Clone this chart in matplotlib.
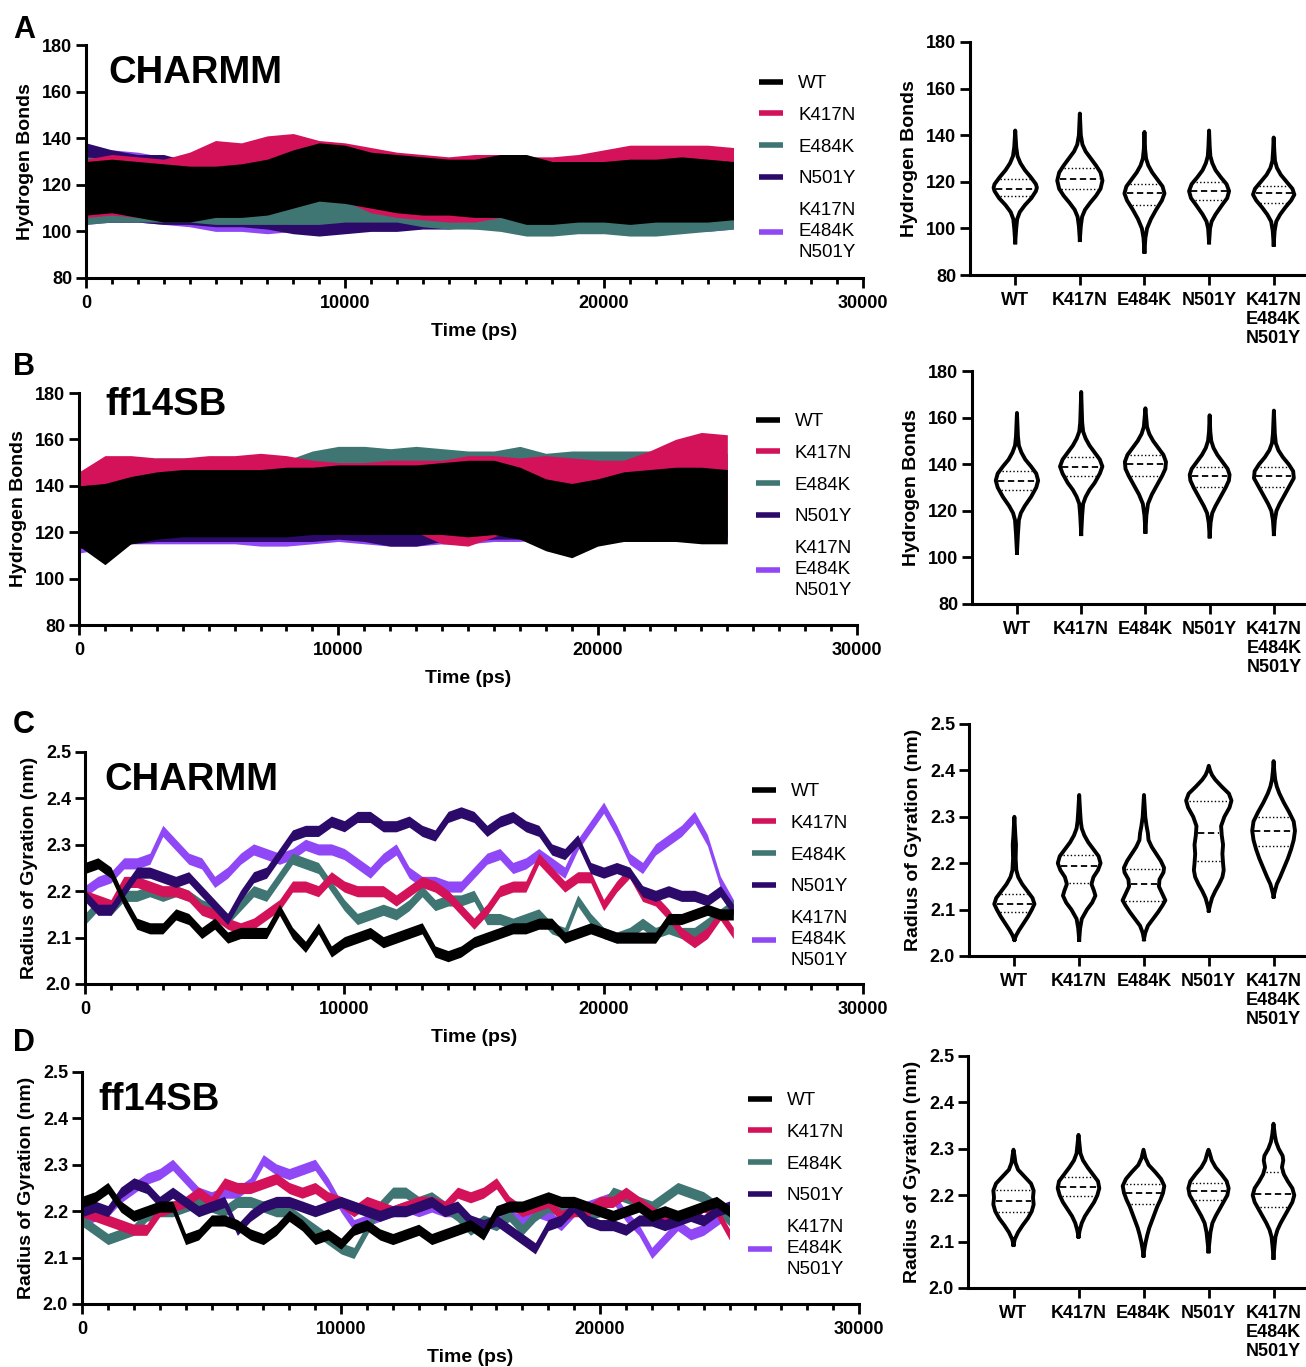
import numpy as np
import matplotlib
matplotlib.use('Agg')
import matplotlib.pyplot as plt
from matplotlib.lines import Line2D
from matplotlib.ticker import MultipleLocator, FormatStrFormatter

plt.rcParams['font.family'] = ['Liberation Sans', 'DejaVu Sans']
plt.rcParams.update({
    'font.weight': 'bold',
    'axes.labelweight': 'bold',
    'axes.linewidth': 2.2,
    'xtick.major.width': 2.0, 'xtick.minor.width': 2.0, 'ytick.major.width': 2.0,
    'xtick.major.size': 7, 'xtick.minor.size': 4.5, 'ytick.major.size': 7,
    'xtick.labelsize': 13, 'ytick.labelsize': 13,
    'axes.labelsize': 14,
})

W, H = 1306, 1367

labels = ['WT', 'K417N', 'E484K', 'N501Y', 'K417N\nE484K\nN501Y']
colors = ['#000000', '#d3125a', '#3f7572', '#2c0a6a', '#9048f6']

# ---- hydrogen bonds, low / high envelope every 1000 ps (0..25000) ----
t_hb = np.arange(0, 25001, 1000)

hbA_lo = [
    [107, 108, 106, 104, 104, 106, 106, 107, 110, 113, 112, 110, 108, 107, 107, 106, 106, 103, 103, 104, 104, 103, 104, 104, 104, 105],
    [106, 107, 106, 106, 108, 110, 110, 111, 113, 114, 113, 108, 106, 105, 104, 104, 106, 107, 108, 109, 110, 110, 111, 111, 111, 111],
    [103, 104, 104, 104, 104, 103, 103, 103, 103, 103, 104, 104, 104, 102, 101, 101, 100, 98, 98, 99, 99, 98, 98, 99, 100, 101],
    [104, 104, 104, 103, 103, 102, 102, 101, 99, 98, 99, 100, 100, 101, 101, 102, 102, 102, 103, 102, 102, 102, 102, 102, 102, 102],
    [103, 104, 104, 103, 102, 100, 100, 99, 100, 101, 102, 102, 102, 102, 102, 101, 102, 103, 103, 102, 102, 102, 101, 101, 100, 101],
]
hbA_hi = [
    [130, 131, 130, 129, 128, 128, 129, 131, 135, 138, 137, 134, 133, 132, 131, 131, 133, 133, 130, 130, 130, 131, 131, 132, 131, 130],
    [131, 133, 132, 131, 134, 139, 138, 141, 142, 139, 138, 136, 134, 133, 132, 133, 133, 132, 132, 133, 135, 137, 137, 137, 137, 136],
    [132, 131, 130, 130, 129, 128, 128, 127, 126, 125, 127, 127, 127, 127, 127, 127, 127, 127, 128, 127, 127, 127, 126, 126, 126, 126],
    [138, 135, 133, 133, 130, 129, 128, 128, 126, 126, 126, 127, 127, 127, 128, 129, 130, 129, 129, 129, 129, 129, 129, 130, 130, 129],
    [134, 135, 134, 132, 130, 129, 128, 128, 128, 128, 128, 128, 128, 129, 129, 130, 133, 131, 130, 130, 130, 131, 131, 131, 132, 131],
]

hbB_lo = [
    [114, 106, 115, 117, 118, 118, 118, 118, 118, 119, 119, 119, 119, 119, 119, 118, 119, 117, 112, 109, 114, 116, 116, 116, 115, 115],
    [117, 118, 120, 121, 121, 121, 121, 121, 121, 121, 121, 121, 121, 120, 115, 114, 118, 122, 124, 125, 125, 126, 127, 130, 132, 132],
    [118, 117, 118, 120, 119, 119, 119, 119, 119, 120, 121, 120, 120, 120, 120, 120, 121, 121, 121, 121, 122, 122, 121, 121, 121, 121],
    [113, 114, 115, 116, 116, 116, 116, 116, 116, 116, 117, 116, 114, 114, 116, 116, 117, 117, 117, 117, 118, 118, 118, 118, 118, 118],
    [111, 113, 115, 115, 115, 115, 115, 114, 114, 115, 116, 115, 114, 114, 115, 115, 116, 116, 117, 117, 117, 117, 116, 117, 117, 116],
]
hbB_hi = [
    [140, 141, 144, 146, 147, 147, 147, 147, 148, 148, 149, 149, 149, 149, 150, 151, 151, 148, 143, 141, 143, 146, 147, 148, 148, 147],
    [146, 153, 153, 152, 152, 153, 153, 154, 153, 151, 150, 150, 151, 151, 151, 153, 153, 152, 153, 152, 151, 151, 155, 160, 163, 162],
    [144, 147, 149, 152, 152, 152, 150, 150, 151, 155, 157, 157, 156, 157, 156, 155, 155, 157, 154, 155, 155, 155, 155, 154, 154, 154],
    [142, 144, 146, 147, 149, 147, 147, 147, 147, 148, 148, 148, 148, 148, 148, 149, 149, 148, 148, 148, 149, 149, 149, 149, 149, 149],
    [142, 144, 146, 148, 149, 149, 148, 148, 148, 149, 149, 149, 149, 149, 150, 153, 150, 150, 150, 152, 151, 151, 152, 152, 152, 152],
]

# ---- radius of gyration, trace centre every 500 ps (0..25000) ----
t_rg = np.arange(0, 25001, 500)
rg_half = 0.012  # half thickness of the noisy trace

rgC = [
    [2.25, 2.26, 2.24, 2.18, 2.13, 2.12, 2.12, 2.15, 2.14, 2.11, 2.13, 2.10, 2.11, 2.11, 2.11, 2.16, 2.11, 2.08, 2.12, 2.07, 2.09,
     2.10, 2.11, 2.09, 2.10, 2.11, 2.12, 2.07, 2.06, 2.07, 2.09, 2.10, 2.11, 2.12, 2.12, 2.13, 2.13, 2.10, 2.11, 2.12, 2.11,
     2.10, 2.10, 2.10, 2.10, 2.14, 2.14, 2.15, 2.16, 2.15, 2.15],
    [2.19, 2.18, 2.17, 2.22, 2.22, 2.21, 2.20, 2.20, 2.19, 2.16, 2.15, 2.13, 2.12, 2.13, 2.15, 2.17, 2.21, 2.21, 2.20, 2.23, 2.21,
     2.20, 2.20, 2.20, 2.18, 2.20, 2.22, 2.21, 2.19, 2.16, 2.13, 2.16, 2.20, 2.21, 2.21, 2.27, 2.24, 2.21, 2.23, 2.23, 2.17,
     2.21, 2.24, 2.19, 2.18, 2.15, 2.11, 2.09, 2.11, 2.15, 2.11],
    [2.14, 2.17, 2.16, 2.19, 2.19, 2.20, 2.19, 2.20, 2.19, 2.17, 2.16, 2.14, 2.17, 2.20, 2.19, 2.23, 2.27, 2.26, 2.25, 2.21, 2.17,
     2.14, 2.15, 2.16, 2.15, 2.17, 2.20, 2.17, 2.18, 2.18, 2.19, 2.14, 2.14, 2.13, 2.14, 2.15, 2.12, 2.11, 2.18, 2.14, 2.11,
     2.10, 2.11, 2.13, 2.11, 2.12, 2.11, 2.11, 2.13, 2.15, 2.17],
    [2.19, 2.16, 2.16, 2.20, 2.24, 2.24, 2.23, 2.22, 2.23, 2.20, 2.17, 2.14, 2.19, 2.23, 2.24, 2.28, 2.32, 2.33, 2.33, 2.35, 2.34,
     2.36, 2.36, 2.34, 2.34, 2.35, 2.33, 2.32, 2.36, 2.37, 2.36, 2.33, 2.35, 2.36, 2.34, 2.33, 2.29, 2.28, 2.31, 2.25, 2.24,
     2.25, 2.24, 2.20, 2.19, 2.20, 2.19, 2.19, 2.18, 2.20, 2.16],
    [2.20, 2.22, 2.23, 2.26, 2.26, 2.27, 2.33, 2.30, 2.27, 2.26, 2.22, 2.24, 2.27, 2.29, 2.28, 2.27, 2.28, 2.30, 2.29, 2.29, 2.28,
     2.26, 2.24, 2.27, 2.29, 2.24, 2.22, 2.22, 2.21, 2.21, 2.24, 2.27, 2.28, 2.25, 2.26, 2.28, 2.26, 2.24, 2.30, 2.34, 2.38,
     2.33, 2.27, 2.25, 2.29, 2.31, 2.33, 2.36, 2.31, 2.22, 2.17],
]

rgD = [
    [2.22, 2.23, 2.25, 2.21, 2.19, 2.20, 2.21, 2.21, 2.14, 2.15, 2.18, 2.18, 2.17, 2.15, 2.14, 2.16, 2.19, 2.17, 2.14, 2.15, 2.13,
     2.16, 2.17, 2.15, 2.14, 2.15, 2.16, 2.14, 2.15, 2.16, 2.17, 2.15, 2.20, 2.21, 2.21, 2.22, 2.23, 2.22, 2.22, 2.21, 2.20,
     2.19, 2.20, 2.21, 2.19, 2.20, 2.19, 2.20, 2.21, 2.22, 2.20],
    [2.20, 2.19, 2.18, 2.17, 2.16, 2.16, 2.20, 2.21, 2.22, 2.24, 2.22, 2.26, 2.25, 2.25, 2.26, 2.27, 2.25, 2.24, 2.25, 2.23, 2.22,
     2.20, 2.22, 2.21, 2.20, 2.21, 2.22, 2.22, 2.21, 2.24, 2.23, 2.24, 2.26, 2.22, 2.20, 2.21, 2.22, 2.19, 2.20, 2.20, 2.22,
     2.22, 2.24, 2.22, 2.20, 2.18, 2.19, 2.19, 2.21, 2.20, 2.15],
    [2.18, 2.16, 2.14, 2.15, 2.16, 2.19, 2.20, 2.20, 2.21, 2.22, 2.21, 2.20, 2.22, 2.22, 2.21, 2.20, 2.20, 2.18, 2.16, 2.14, 2.12,
     2.11, 2.16, 2.21, 2.24, 2.24, 2.22, 2.23, 2.21, 2.19, 2.16, 2.18, 2.17, 2.19, 2.16, 2.19, 2.21, 2.20, 2.21, 2.19, 2.20,
     2.24, 2.23, 2.22, 2.21, 2.23, 2.25, 2.24, 2.23, 2.21, 2.18],
    [2.20, 2.21, 2.20, 2.24, 2.26, 2.25, 2.22, 2.24, 2.22, 2.20, 2.21, 2.22, 2.16, 2.19, 2.21, 2.22, 2.22, 2.21, 2.20, 2.21, 2.22,
     2.21, 2.20, 2.19, 2.20, 2.20, 2.21, 2.22, 2.20, 2.21, 2.18, 2.17, 2.18, 2.16, 2.14, 2.12, 2.17, 2.18, 2.21, 2.18, 2.17,
     2.17, 2.16, 2.18, 2.18, 2.17, 2.18, 2.19, 2.18, 2.20, 2.21],
    [2.18, 2.19, 2.20, 2.23, 2.25, 2.27, 2.28, 2.30, 2.27, 2.24, 2.23, 2.24, 2.24, 2.26, 2.31, 2.29, 2.28, 2.29, 2.30, 2.26, 2.21,
     2.17, 2.18, 2.19, 2.20, 2.21, 2.20, 2.21, 2.20, 2.20, 2.18, 2.15, 2.20, 2.19, 2.18, 2.20, 2.19, 2.17, 2.20, 2.21, 2.22,
     2.23, 2.19, 2.16, 2.11, 2.14, 2.17, 2.15, 2.16, 2.18, 2.20],
]

# ---- violin outlines: value levels and half widths (category units) ----
vioA_y = [
    [94, 100, 104, 107, 110, 113, 116, 117.5, 119, 122, 125, 128, 131, 135, 142],
    [95, 101, 105, 108, 111, 114, 117, 120.5, 124, 127, 130, 133, 136, 140, 149.3],
    [90, 96, 100, 104, 108, 112, 115, 118, 121, 124, 127, 130, 134, 141.4],
    [94, 100, 103, 106, 110, 113, 116, 119, 122, 125, 128, 131, 135, 142],
    [93, 99, 103, 106, 109, 112, 114.5, 117, 120, 123, 126, 129, 133, 139],
]
vioA_w = [
    [0, 0.015, 0.03, 0.07, 0.15, 0.25, 0.32, 0.335, 0.32, 0.24, 0.15, 0.08, 0.035, 0.015, 0],
    [0, 0.015, 0.035, 0.08, 0.16, 0.25, 0.32, 0.35, 0.32, 0.25, 0.17, 0.09, 0.04, 0.015, 0],
    [0, 0.015, 0.04, 0.10, 0.18, 0.27, 0.31, 0.28, 0.20, 0.12, 0.06, 0.025, 0.01, 0],
    [0, 0.015, 0.04, 0.10, 0.20, 0.28, 0.31, 0.27, 0.18, 0.10, 0.05, 0.02, 0.01, 0],
    [0, 0.015, 0.04, 0.10, 0.18, 0.27, 0.32, 0.29, 0.20, 0.11, 0.05, 0.02, 0.01, 0],
]
vioA_q = [(114, 117, 121), (117, 121, 126), (110, 115, 119), (112, 116, 120), (111, 115, 118)]

vioB_y = [
    [102, 110, 116, 119, 122, 126, 130, 133, 136, 139, 142, 145, 148, 152, 162],
    [110, 118, 123, 126, 129, 132, 136, 139, 142, 145, 148, 151, 154, 158, 171],
    [111, 118, 123, 127, 131, 135, 138, 141, 144, 147, 150, 153, 156, 164],
    [109, 115, 119, 122, 126, 130, 133, 135.5, 138, 141, 144, 147, 150, 154, 161],
    [110, 116, 120, 123, 127, 131, 134, 137, 140, 143, 146, 149, 153, 163],
]
vioB_w = [
    [0, 0.015, 0.03, 0.06, 0.12, 0.22, 0.30, 0.33, 0.30, 0.22, 0.13, 0.07, 0.03, 0.015, 0],
    [0, 0.015, 0.03, 0.07, 0.13, 0.21, 0.29, 0.33, 0.29, 0.21, 0.13, 0.07, 0.03, 0.015, 0],
    [0, 0.015, 0.04, 0.10, 0.18, 0.26, 0.31, 0.32, 0.28, 0.20, 0.12, 0.06, 0.025, 0],
    [0, 0.015, 0.04, 0.09, 0.17, 0.25, 0.30, 0.31, 0.28, 0.20, 0.12, 0.06, 0.025, 0.01, 0],
    [0, 0.015, 0.04, 0.09, 0.17, 0.25, 0.31, 0.30, 0.23, 0.14, 0.07, 0.03, 0.015, 0],
]
vioB_q = [(129, 133, 137), (135, 139, 143), (135, 140, 144), (130, 135, 139), (130, 135, 139)]

vioC_y = [
    [2.035, 2.045, 2.055, 2.07, 2.085, 2.10, 2.112, 2.125, 2.14, 2.155, 2.17, 2.185, 2.21, 2.24, 2.26, 2.30],
    [2.035, 2.06, 2.08, 2.10, 2.115, 2.13, 2.14, 2.155, 2.17, 2.185, 2.20, 2.215, 2.23, 2.245, 2.26, 2.275, 2.29, 2.31, 2.347],
    [2.036, 2.05, 2.065, 2.08, 2.095, 2.11, 2.12, 2.135, 2.15, 2.165, 2.18, 2.19, 2.205, 2.22, 2.235, 2.25, 2.265, 2.28, 2.30, 2.347],
    [2.098, 2.11, 2.125, 2.14, 2.155, 2.17, 2.185, 2.20, 2.22, 2.24, 2.26, 2.28, 2.30, 2.32, 2.335, 2.35, 2.365, 2.38, 2.39, 2.40, 2.41],
    [2.128, 2.14, 2.155, 2.17, 2.19, 2.21, 2.23, 2.25, 2.27, 2.29, 2.31, 2.33, 2.35, 2.365, 2.38, 2.40, 2.42],
]
vioC_w = [
    [0, 0.03, 0.07, 0.14, 0.21, 0.27, 0.31, 0.28, 0.20, 0.12, 0.06, 0.03, 0.02, 0.025, 0.015, 0],
    [0, 0.015, 0.04, 0.12, 0.20, 0.25, 0.23, 0.19, 0.22, 0.29, 0.33, 0.30, 0.22, 0.14, 0.08, 0.04, 0.025, 0.015, 0],
    [0, 0.02, 0.06, 0.14, 0.22, 0.29, 0.33, 0.28, 0.23, 0.24, 0.30, 0.31, 0.26, 0.19, 0.12, 0.07, 0.06, 0.04, 0.02, 0],
    [0, 0.02, 0.05, 0.10, 0.16, 0.21, 0.23, 0.22, 0.21, 0.22, 0.20, 0.19, 0.24, 0.32, 0.35, 0.31, 0.20, 0.10, 0.05, 0.02, 0],
    [0, 0.02, 0.05, 0.10, 0.16, 0.22, 0.27, 0.31, 0.33, 0.31, 0.24, 0.16, 0.09, 0.05, 0.025, 0.01, 0],
]
vioC_q = [(2.095, 2.113, 2.133), (2.157, 2.193, 2.218), (2.118, 2.155, 2.187), (2.204, 2.265, 2.333), (2.236, 2.27, 2.30)]

vioD_y = [
    [2.093, 2.105, 2.12, 2.135, 2.15, 2.165, 2.18, 2.195, 2.21, 2.225, 2.24, 2.255, 2.27, 2.285, 2.298],
    [2.111, 2.125, 2.14, 2.155, 2.17, 2.185, 2.20, 2.215, 2.23, 2.245, 2.26, 2.275, 2.29, 2.31, 2.33],
    [2.07, 2.085, 2.10, 2.115, 2.13, 2.145, 2.16, 2.175, 2.19, 2.205, 2.22, 2.235, 2.25, 2.265, 2.28, 2.298],
    [2.079, 2.10, 2.12, 2.14, 2.155, 2.17, 2.185, 2.20, 2.215, 2.23, 2.245, 2.26, 2.275, 2.29, 2.298],
    [2.065, 2.09, 2.11, 2.125, 2.14, 2.155, 2.17, 2.185, 2.20, 2.215, 2.23, 2.245, 2.26, 2.275, 2.285, 2.30, 2.315, 2.33, 2.354],
]
vioD_w = [
    [0, 0.02, 0.07, 0.14, 0.22, 0.28, 0.31, 0.30, 0.31, 0.27, 0.17, 0.07, 0.03, 0.015, 0],
    [0, 0.02, 0.05, 0.10, 0.17, 0.24, 0.29, 0.32, 0.30, 0.22, 0.14, 0.07, 0.03, 0.015, 0],
    [0, 0.015, 0.035, 0.06, 0.09, 0.13, 0.17, 0.21, 0.26, 0.30, 0.32, 0.27, 0.18, 0.08, 0.03, 0],
    [0, 0.015, 0.03, 0.06, 0.11, 0.17, 0.23, 0.29, 0.31, 0.28, 0.20, 0.11, 0.05, 0.02, 0],
    [0, 0.015, 0.03, 0.06, 0.11, 0.17, 0.23, 0.29, 0.32, 0.29, 0.22, 0.16, 0.13, 0.15, 0.14, 0.08, 0.04, 0.02, 0],
]
vioD_q = [(2.163, 2.187, 2.211), (2.198, 2.218, 2.239), (2.18, 2.205, 2.225), (2.19, 2.21, 2.226), (2.175, 2.203, 2.25)]


fig = plt.figure(figsize=(W / 100, H / 100), dpi=100)


def px_axes(l, t, r, b):
    return fig.add_axes([l / W, 1 - b / H, (r - l) / W, (b - t) / H])


def clean(ax):
    ax.spines['top'].set_visible(False)
    ax.spines['right'].set_visible(False)
    ax.tick_params(axis='both', pad=3)


def ts_axes(ax, ylim, ystep, ylabel, fmt):
    clean(ax)
    ax.set_xlim(0, 30000)
    ax.set_ylim(*ylim)
    ax.set_xticks([0, 10000, 20000, 30000])
    ax.xaxis.set_minor_locator(MultipleLocator(1000))
    ax.yaxis.set_major_locator(MultipleLocator(ystep))
    ax.yaxis.set_major_formatter(FormatStrFormatter(fmt))
    ax.tick_params(axis='x', pad=5)
    ax.set_xlabel('Time (ps)', labelpad=8)
    ax.set_ylabel(ylabel, labelpad=6)
    handles = [Line2D([0], [0], color=c, lw=4, solid_capstyle='butt') for c in colors]
    return handles


def add_legend(ax, handles, x, top):
    leg = ax.legend(handles, labels, loc='upper left', bbox_to_anchor=(x / W, 1 - top / H),
                    bbox_transform=fig.transFigure, frameon=False, borderpad=0, borderaxespad=0,
                    handlelength=1.28, handletextpad=0.8, labelspacing=0.78,
                    prop={'size': 13.5, 'weight': 'normal'})
    for t in leg.get_texts():
        t.set_linespacing(1.32)


def hb_panel(ax, lo, hi):
    for i in [4, 3, 2, 1, 0]:
        ax.fill_between(t_hb, lo[i], hi[i], color=colors[i], lw=0)


def rg_panel(ax, centres):
    for i in [4, 2, 1, 3, 0]:
        c = np.array(centres[i])
        ax.fill_between(t_rg, c - rg_half, c + rg_half, color=colors[i], lw=0)


def violin_panel(ax, ys, ws, qs, ylim, ystep, ylabel, fmt):
    clean(ax)
    for i, (y, w, q) in enumerate(zip(ys, ws, qs)):
        y = np.array(y)
        w = np.array(w)
        ax.fill_betweenx(y, i - w, i + w, color='white', lw=0, zorder=2)
        xs = np.concatenate([i - w, (i + w)[::-1], [i - w[0]]])
        yy = np.concatenate([y, y[::-1], [y[0]]])
        ax.plot(xs, yy, color='black', lw=2.8, solid_joinstyle='round', zorder=3)
        for val, dash, lw in zip(q, [(1, 1.6), (3.5, 2), (1, 1.6)], [1.0, 1.3, 1.0]):
            hw = np.interp(val, y, w) - 0.035
            ax.plot([i - hw, i + hw], [val, val], color='black', lw=lw, dashes=dash, zorder=4)
    ax.set_xlim(-0.7, 4.5)
    ax.set_ylim(*ylim)
    ax.set_xticks(range(5))
    ax.set_xticklabels(labels, linespacing=1.15)
    ax.yaxis.set_major_locator(MultipleLocator(ystep))
    ax.yaxis.set_major_formatter(FormatStrFormatter(fmt))
    ax.tick_params(axis='x', pad=5)
    ax.set_ylabel(ylabel, labelpad=6)


# Panel A
ax = px_axes(86, 45, 863, 278)
hb_panel(ax, hbA_lo, hbA_hi)
h = ts_axes(ax, (80, 180), 20, 'Hydrogen Bonds', '%d')
add_legend(ax, h, 759, 75)
ax = px_axes(970, 42, 1306, 275)
violin_panel(ax, vioA_y, vioA_w, vioA_q, (80, 180), 20, 'Hydrogen Bonds', '%d')

# Panel B
ax = px_axes(79, 393, 857, 625)
hb_panel(ax, hbB_lo, hbB_hi)
h = ts_axes(ax, (80, 180), 20, 'Hydrogen Bonds', '%d')
add_legend(ax, h, 756, 413)
ax = px_axes(972, 371, 1306, 604)
violin_panel(ax, vioB_y, vioB_w, vioB_q, (80, 180), 20, 'Hydrogen Bonds', '%d')

# Panel C
ax = px_axes(85, 752, 863, 984)
rg_panel(ax, rgC)
h = ts_axes(ax, (2.0, 2.5), 0.1, 'Radius of Gyration (nm)', '%.1f')
add_legend(ax, h, 752, 783)
ax = px_axes(969, 724, 1306, 956)
violin_panel(ax, vioC_y, vioC_w, vioC_q, (2.0, 2.5), 0.1, 'Radius of Gyration (nm)', '%.1f')

# Panel D
ax = px_axes(82, 1072, 859, 1304)
rg_panel(ax, rgD)
h = ts_axes(ax, (2.0, 2.5), 0.1, 'Radius of Gyration (nm)', '%.1f')
add_legend(ax, h, 748, 1092)
ax = px_axes(968, 1056, 1306, 1288)
violin_panel(ax, vioD_y, vioD_w, vioD_q, (2.0, 2.5), 0.1, 'Radius of Gyration (nm)', '%.1f')

# panel letters and force-field titles
for letter, yb in zip('ABCD', [38, 375, 733, 1051]):
    fig.text(13 / W, 1 - yb / H, letter, fontsize=22, weight='bold', va='baseline')
for name, xl, yb in [('CHARMM', 108, 83), ('ff14SB', 105, 415), ('CHARMM', 104, 790), ('ff14SB', 98, 1110)]:
    fig.text(xl / W, 1 - yb / H, name, fontsize=27.5, weight='bold', va='baseline')

fig.savefig('out.png', dpi=100)
